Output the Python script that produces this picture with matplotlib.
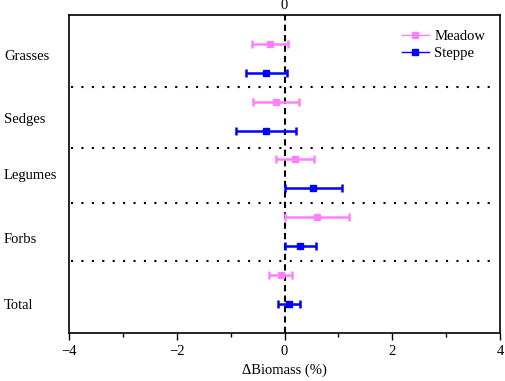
import matplotlib
matplotlib.use("Agg")
from matplotlib import pyplot as plt
from matplotlib.lines import Line2D
from matplotlib.ticker import MultipleLocator

plt.rcParams['font.family'] = ['Liberation Serif', 'DejaVu Serif']
plt.rcParams['font.size'] = 10.5

# groups from top to bottom
groups = ["Grasses", "Sedges", "Legumes", "Forbs", "Total"]
label_pos = [9.6, 7.45, 5.5, 3.3, 1.0]
sep_pos = [8.5, 6.4, 4.5, 2.5]

meadow_y = [10, 8, 6, 4, 2]
meadow_mean = [-0.27, -0.16, 0.19, 0.60, -0.06]
meadow_lo = [-0.61, -0.58, -0.16, 0.00, -0.29]
meadow_hi = [0.06, 0.27, 0.55, 1.20, 0.14]

steppe_y = [9, 7, 5, 3, 1]
steppe_mean = [-0.34, -0.35, 0.52, 0.29, 0.08]
steppe_lo = [-0.72, -0.91, 0.00, 0.00, -0.13]
steppe_hi = [0.05, 0.21, 1.07, 0.58, 0.29]

meadow_col = '#ff80ff'
steppe_col = '#0000ff'

fig = plt.figure(figsize=(5.05, 3.81), dpi=100)
ax = fig.add_axes([0.137, 0.126, 0.853, 0.835])

def draw(y, mean, lo, hi, col):
    err = [[m - l for m, l in zip(mean, lo)], [h - m for m, h in zip(mean, hi)]]
    ax.errorbar(mean, y, xerr=err, fmt='s', color=col, ecolor=col,
                markersize=5, elinewidth=1.8, capsize=3, capthick=1.8, zorder=3)

draw(meadow_y, meadow_mean, meadow_lo, meadow_hi, meadow_col)
draw(steppe_y, steppe_mean, steppe_lo, steppe_hi, steppe_col)

ax.axvline(0, color='black', lw=1.5, linestyle=(0, (3, 2)), zorder=2)
for s in sep_pos:
    ax.axhline(s, xmin=0.005, xmax=0.99, color='black', lw=1.5,
               linestyle=(0, (1, 4)), zorder=1)

ax.set_xlim(-4, 4)
ax.set_ylim(0, 11)
ax.xaxis.set_major_locator(MultipleLocator(2))
ax.xaxis.set_minor_locator(MultipleLocator(1))
ax.tick_params(axis='x', which='major', direction='out', length=5, width=1)
ax.tick_params(axis='x', which='minor', direction='out', length=3, width=1)
ax.set_yticks(label_pos)
ax.set_yticklabels(groups)
ax.tick_params(axis='y', length=0, pad=47)
for t in ax.get_yticklabels():
    t.set_horizontalalignment('left')
for sp in ax.spines.values():
    sp.set_linewidth(1.2)

ax.text(0, 1.01, "0", transform=ax.get_xaxis_transform(), ha='center', va='bottom')
ax.set_xlabel("ΔBiomass (%)", labelpad=4)

handles = [Line2D([], [], color=meadow_col, lw=1, marker='s', markersize=5),
           Line2D([], [], color=steppe_col, lw=1, marker='s', markersize=5)]
ax.legend(handles, ["Meadow", "Steppe"], loc='upper right', frameon=False,
          handlelength=1.8, handletextpad=0.4, labelspacing=0.3,
          borderaxespad=0.6)

fig.savefig("out.png", dpi=100)
